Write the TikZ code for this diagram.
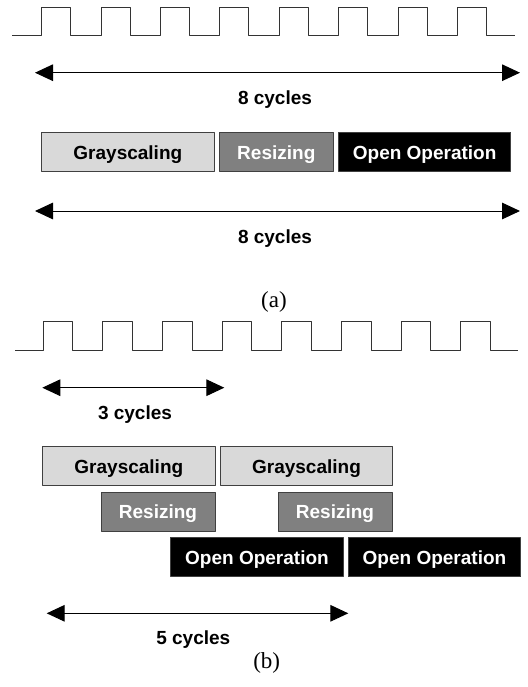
\documentclass[tikz,border=0pt]{standalone}
\usepackage{fontspec}
\setmainfont{Liberation Serif}
\setsansfont{Liberation Sans}
\usetikzlibrary{arrows.meta}

\tikzset{
  lbl/.style={font=\sffamily\bfseries\fontsize{9.5}{11}\selectfont},
  sublbl/.style={font=\rmfamily\fontsize{11.5}{13}\selectfont},
  opbox/.style={draw=black!75, line width=0.5pt, minimum height=19.5pt, inner sep=0pt, text height=7.4pt, text depth=0pt, lbl},
  grayop/.style={opbox, fill=black!15, text=black, minimum width=86.2pt},
  resizeop/.style={opbox, fill=black!50, text=white, minimum width=57pt},
  openop/.style={opbox, fill=black, text=white, minimum width=86.3pt},
  dimarrow/.style={line width=0.5pt, {Triangle[length=9pt,width=8.3pt]}-{Triangle[length=9pt,width=8.3pt]}},
  clk/.style={line width=0.5pt, black!80}
}

\begin{document}
\begin{tikzpicture}[line join=round,x=0.5pt,y=-0.5pt]
\useasboundingbox (0,0) rectangle (527,687);
% (a) clock
\draw[clk] (12.3,35.7) foreach \i in {0,...,7} { -- ({41.7+59.43*\i},35.7) -- ++(0,-28.4) -- ++(29,0) -- ++(0,28.4) } -- (515,35.7);
\coordinate (a1l) at (35,72.7);
\coordinate (a1r) at (520,72.7);
\draw[dimarrow] (a1l) -- (a1r);
\node[lbl] (a1t) at (275,100) {8 cycles};
% (a) operations
\node[grayop] (agray) at (127.85,151.65) {Grayscaling};
\node[resizeop] (aresize) at (276.3,151.65) {Resizing};
\node[openop] (aopen) at (424.65,151.65) {Open Operation};
\coordinate (a2l) at (35,211);
\coordinate (a2r) at (520,211);
\draw[dimarrow] (a2l) -- (a2r);
\node[lbl] (a2t) at (275,238.3) {8 cycles};
\node[sublbl] (acap) at (274,301.7) {(a)};
% (b) clock
\draw[clk] (15,350.7) foreach \i in {0,...,7} { -- ({43.3+59.67*\i},350.7) -- ++(0,-29) -- ++(29.4,0) -- ++(0,29) } -- (518.3,350.7);
\coordinate (b1l) at (42.3,387.7);
\coordinate (b1r) at (224.3,387.7);
\draw[dimarrow] (b1l) -- (b1r);
\node[lbl] (b1t) at (135,415) {3 cycles};
% (b) pipelined operations
\node[grayop] (bgray1) at (128.85,465.65) {Grayscaling};
\node[grayop] (bgray2) at (306.5,465.65) {Grayscaling};
\node[resizeop] (bresize1) at (158,511.5) {Resizing};
\node[resizeop] (bresize2) at (335,511.5) {Resizing};
\node[openop] (bopen1) at (257,557) {Open Operation};
\node[openop] (bopen2) at (434.5,557) {Open Operation};
\coordinate (b2l) at (46.7,613.3);
\coordinate (b2r) at (348.3,613.3);
\draw[dimarrow] (b2l) -- (b2r);
\node[lbl] (b2t) at (193.3,640) {5 cycles};
\node[sublbl] (bcap) at (266.7,663.3) {(b)};
\end{tikzpicture}
\end{document}
